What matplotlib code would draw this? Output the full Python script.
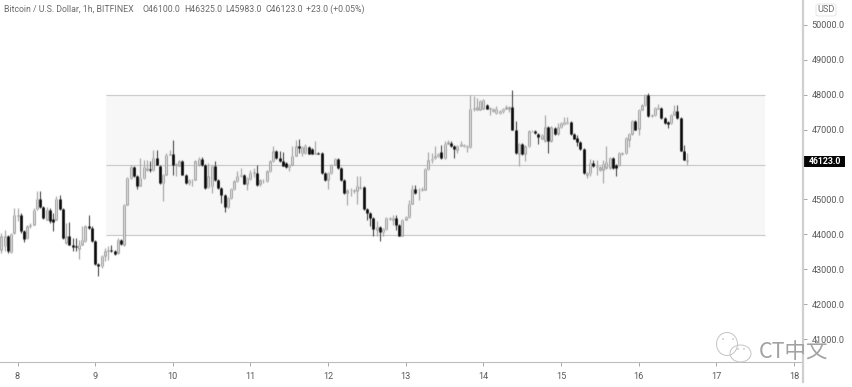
import matplotlib
matplotlib.use("Agg")
import matplotlib.pyplot as plt
import numpy as np
from matplotlib.patches import Rectangle, Ellipse, FancyBboxPatch

opens = [43565,43660,43947,43489,44043,44539,44568,44090,43899,44253,
44282,44730,45017,44787,44424,44711,44444,44424,45017,44730,
43756,43966,43708,43660,43584,43708,43804,44234,44186,43804,
43154,43087,43393,43520,43546,43517,43470,43851,43708,44854,
45618,45933,45666,45399,45618,45857,45876,45838,46191,45972,
45475,45714,46287,46315,46000,45972,46096,45714,45475,45551,
45570,46000,46162,46000,45360,45380,45972,45570,45332,45141,
44787,45045,45303,45523,45666,45714,45456,45589,45761,45761,
45456,45551,45523,45809,46096,46382,46191,46096,46048,45933,
46000,46258,46525,46334,46334,46506,46449,46315,46334,46334,
45761,45570,45761,46000,46162,45905,45570,45189,45265,45255,
45255,45332,45360,44730,44615,44472,44138,44214,44061,44157,
44453,44424,44472,44282,43966,44424,44500,44883,45303,45265,
45284,45284,45876,46124,46191,46239,46354,46191,46602,46621,
46525,46430,46545,46525,46506,46506,47604,47576,47576,47604,
47700,47604,47547,47480,47480,47528,47604,47604,47643,47003,
46306,46592,46306,46525,46955,46974,46879,46745,46688,47070,
46688,47050,46879,47070,47165,47194,47222,46879,46764,46649,
46458,45713,45761,46048,45923,45857,45857,45905,45905,46191,
46000,45981,46306,46334,46716,46879,47261,47031,47576,47700,
48006,47385,47413,47604,47624,47337,47222,47194,47432,47547,
47337,46401,46100]

highs = [44043,44138,43995,44050,44759,44759,44600,44138,44280,44330,
44760,45236,45236,44800,44780,44760,44615,45093,45141,44760,
44329,44348,43899,43899,43851,44234,44260,44568,44234,43830,
43180,43420,43613,43660,43708,43540,43900,43880,44880,45640,
46000,45960,45690,46191,46144,46144,46096,46430,46411,46000,
45740,46320,46411,46716,46060,46130,46120,45740,45600,45600,
46120,46210,46210,46030,46048,46000,46096,45600,45360,45170,
45070,45330,45550,45809,45905,45740,45640,45857,45905,46000,
45580,45600,45840,46120,46525,46410,46382,46354,46070,46030,
46525,46716,46736,46530,46602,46530,46470,46669,46360,46360,
45790,45790,46030,46190,46190,45930,45600,45290,45332,45310,
45666,45666,45390,44750,44640,44500,44377,44240,44180,44500,
44500,44568,44568,44310,44450,44530,44998,45427,45427,45320,
45360,45900,46354,46334,46545,46340,46573,46669,46697,46669,
46550,46570,46669,46600,46570,48006,47958,47910,47860,47890,
47730,47650,47630,47671,47570,47630,47719,47670,48149,47242,
46620,46620,46550,46980,47000,47000,46900,46880,47413,47100,
47100,47080,47194,47220,47356,47356,47250,46900,46860,46680,
46480,45790,46172,46143,46143,45950,46143,46525,46220,46220,
46030,46360,46360,46790,46900,47290,47290,47600,47730,48030,
48040,47440,47650,47738,47650,47360,47250,47460,47719,47719,
47360,46573,46325]

lows = [43470,43517,43470,43470,44023,44377,44050,43775,43880,44186,
44260,44700,44759,44440,44400,44330,44090,44400,44700,43880,
43730,43690,43517,43517,43298,43690,43780,44150,43780,43130,
42820,43030,43231,43279,43489,43400,43430,43700,43660,44830,
45600,45640,45303,45380,45600,45809,45780,45810,45980,45450,
44950,45690,46270,45714,45666,45950,45690,45450,45427,45400,
45550,45970,45970,45310,45330,45189,45540,45300,44902,44635,
44760,45020,45280,45500,45640,45430,45284,45570,45650,45400,
45380,45480,45500,45790,46070,46160,46077,45950,45900,45809,
45980,46240,46334,46258,46300,46290,46290,46290,46290,45740,
45540,45303,45740,45980,45880,45540,45160,44854,45093,45200,
44883,45300,44700,44424,44234,43966,43947,43804,43947,44130,
44400,44282,44138,43940,43940,44400,44480,44860,45160,44998,
45250,45260,45850,46048,46160,46210,46170,46170,46580,46500,
46191,46334,46520,46500,46354,46477,47528,47550,47550,47580,
47580,47413,47520,47460,47440,47480,47580,47500,46980,46310,
45952,46280,46115,46500,46930,46880,46592,46720,46660,46334,
46660,46850,46850,47050,47140,47170,46850,46720,46525,46430,
45740,45618,45665,45930,45694,45830,45475,45880,45880,45880,
45666,45960,46280,46310,46497,46850,46980,46840,47550,47680,
47360,47360,47390,47580,47310,47170,47050,47170,47410,47310,
46380,46120,45983]

closes = [43947,43947,43517,44023,44568,44568,44090,43870,44234,44282,
44711,45017,44787,44472,44711,44377,44348,45017,44730,43899,
43947,43708,43641,43641,43708,43851,44234,44186,43804,43154,
43087,43393,43517,43546,43517,43450,43851,43737,44854,45618,
45933,45666,45380,45618,45933,45905,45838,46191,46000,45475,
45714,46287,46315,46000,46020,46096,45714,45475,45570,45570,
46096,46162,46000,45332,45666,45972,45570,45332,45141,44787,
45045,45303,45523,45685,45714,45456,45618,45761,45780,45427,
45551,45570,45809,46096,46382,46191,46096,45972,45933,46000,
46258,46525,46478,46506,46545,46315,46315,46334,46315,45761,
45570,45761,46000,46162,45905,45570,45189,45265,45284,45284,
45399,45360,44730,44615,44472,44157,44214,44061,44157,44472,
44472,44472,44282,43966,44424,44500,44883,45303,45189,45284,
45303,45876,46124,46162,46239,46315,46191,46602,46640,46525,
46449,46545,46602,46573,46545,47604,47623,47643,47834,47862,
47604,47623,47604,47604,47547,47604,47643,47643,47003,46334,
46592,46306,46525,46955,46974,46907,46783,46860,47070,46669,
47070,46879,47070,47194,47222,47222,46879,46745,46649,46458,
45761,45761,46048,45952,45971,45924,46019,46076,46191,45905,
45905,46334,46334,46764,46879,47261,47003,47576,47700,48006,
47385,47413,47624,47624,47337,47194,47165,47432,47547,47337,
46401,46143,46123]

range_levels = [48000, 46000, 43970]
price_ticks = [50000, 49000, 48000, 47000, 46000, 45000, 44000, 43000, 42000, 41000]
day_labels = ["8", "9", "10", "11", "12", "13", "14", "15", "16", "17", "18"]
day_positions = [6, 30, 54, 78, 102, 126, 150, 174, 198, 222, 246]
last_price = 46123


def soften(image, dpi):
    """Small gaussian blur, the picture is a soft re-compressed screenshot."""
    kernel = np.array([0.12, 0.76, 0.12])
    a = image[..., 3]
    pre = image[..., :3] * a[..., None]
    stack = np.dstack([pre, a])
    for axis in (0, 1):
        stack = np.apply_along_axis(lambda m: np.convolve(m, kernel, mode="same"), axis, stack)
    alpha = np.clip(stack[..., 3:], 1e-4, 1)
    out = np.dstack([np.clip(stack[..., :3] / alpha, 0, 1), stack[..., 3]])
    return out, 0, 0


W, H = 853, 387
fig = plt.figure(figsize=(W / 100, H / 100), dpi=100, facecolor="white")
plt.rcParams["font.family"] = ["Roboto", "DejaVu Sans"]
ax = fig.add_axes([0, (H - 362) / H, 803 / W, 362 / H])
ax.set_xlim(0.59, 248.8)
ax.set_ylim(40344, 50716)
ax.set_facecolor("none")

# range box
ax.add_patch(Rectangle((33.36, range_levels[2]), 203.7, range_levels[0] - range_levels[2],
                       facecolor="#f7f7f7", edgecolor="none", zorder=0))
ax.hlines(range_levels, 33.36, 237.07, color="#cdcdcd", lw=0.9, zorder=1)

# candles
idx = np.arange(1, len(opens) + 1)
o, h, l, c = map(np.array, (opens, highs, lows, closes))
up = c >= o
lo = np.minimum(o, c)
hi = np.maximum(np.maximum(o, c), lo + 12)
layers = [
    ax.vlines(idx[up], l[up], h[up], color="#a8a8a8", lw=0.9, zorder=2),
    ax.vlines(idx[~up], l[~up], h[~up], color="#4a4a4a", lw=0.8, zorder=2),
    ax.vlines(idx[up], lo[up], hi[up], color="#9c9c9c", lw=1.9, zorder=3),
    ax.vlines(idx[up], lo[up] + 12, hi[up] - 12, color="#e2e2e2", lw=0.7, zorder=4),
    ax.vlines(idx[~up], lo[~up], hi[~up], color="#0a0a0a", lw=1.9, zorder=3),
]
for layer in layers:
    layer.set_capstyle("butt")
    layer.set_agg_filter(soften)

# axes styling
for s in ("top", "left", "right"):
    ax.spines[s].set_visible(False)
ax.spines["bottom"].set_color("#bdbdbd")
ax.spines["bottom"].set_linewidth(0.8)
ax.yaxis.tick_right()
ax.set_yticks(price_ticks)
# the 46000.0 label sits hidden behind the last-price tag in the reference
ax.set_yticklabels(["" if p == 46000 else f"{p:.1f}" for p in price_ticks],
                   fontsize=6.6, color="#5a5a5a")
ax.set_xticks(day_positions)
ax.set_xticklabels(day_labels, fontsize=6.6, color="#5a5a5a")
ax.tick_params(axis="y", length=3, width=0.6, color="#999999", pad=3)
ax.tick_params(axis="x", length=3, width=0.6, color="#999999", pad=4)
# price scale line
fig.add_artist(plt.Line2D([803.5 / W, 803.5 / W], [(H - 382) / H, 1], color="#cfcfcf", lw=1.6))

# header
hdr = dict(fontsize=6.3, color="#6a6a6a", va="center", transform=fig.transFigure)
for px, s in [(4, "Bitcoin / U.S. Dollar, 1h, BITFINEX"), (142.5, "O46100.0"), (184, "H46325.0"),
              (225, "L45983.0"), (266, "C46123.0"), (306, "+23.0 (+0.05%)")]:
    fig.text(px / W, (H - 9) / H, s, **hdr)

# USD box
fig.add_artist(FancyBboxPatch((816 / W, (H - 16) / H), 20 / W, 12 / H,
                              boxstyle="round,pad=0,rounding_size=0.004",
                              transform=fig.transFigure, facecolor="white", edgecolor="#e6e6e6", lw=0.7))
fig.text(826 / W, (H - 10) / H, "USD", fontsize=6.6, color="#6a6a6a", ha="center", va="center")

# last price tag
fig.add_artist(Rectangle((803 / W, (H - 167) / H), 42 / W, 11 / H, transform=fig.transFigure,
                         facecolor="#050505", edgecolor="none"))
fig.text(825 / W, (H - 161.3) / H, f"{last_price:.1f}", fontsize=6.3, fontweight="bold",
         color="white", ha="center", va="center")

# watermark
for cx, cy, w, h_ in [(727, 344, 21, 23), (740.5, 353.5, 21, 17)]:
    fig.add_artist(Ellipse((cx / W, (H - cy) / H), w / W, h_ / H, transform=fig.transFigure,
                           facecolor="none", edgecolor="#c4c4c4", lw=0.7))
for px, py in [(723, 339), (733, 339), (738, 349), (744, 349)]:
    fig.add_artist(Ellipse((px / W, (H - py) / H), 2 / W, 2 / H, transform=fig.transFigure,
                           facecolor="#cfcfcf", edgecolor="none"))
fig.text(759 / W, (H - 352.5) / H, "CT中文", fontsize=15.5, color="#a2a2a2", va="center", ha="left",
         family=["Noto Sans CJK SC", "DejaVu Sans"], fontweight="light")

fig.savefig("out.png", dpi=100, facecolor="white")
